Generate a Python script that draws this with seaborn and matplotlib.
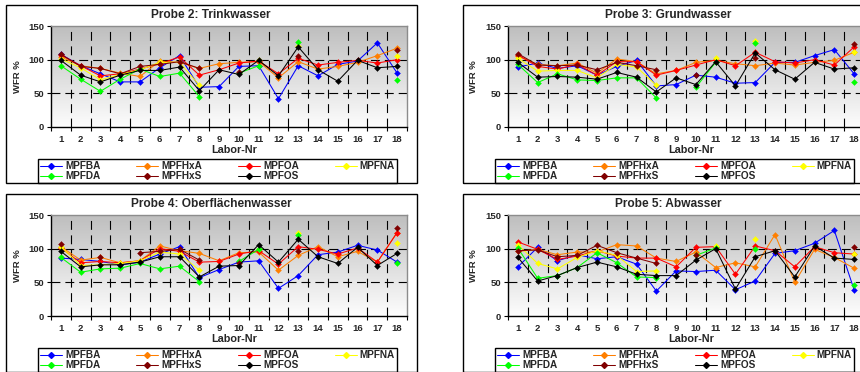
import numpy as np
import pandas as pd
import matplotlib
matplotlib.use("Agg")
import matplotlib.pyplot as plt
from matplotlib.lines import Line2D
from matplotlib.patches import Rectangle
from matplotlib.colors import LinearSegmentedColormap
import seaborn as sns

n = np.nan
labs = list(range(1, 19))
substances = ["MPFBA", "MPFHxA", "MPFOA", "MPFNA", "MPFDA", "MPFHxS", "MPFOS"]
colors = ["#0000ff", "#ff7f00", "#ff0000", "#ffff00", "#00ff00", "#800000", "#000000"]

# Probe 2: Trinkwasser (WFR %)
p2_mpfba = [108, 91, 79, 67, 67, 88, 106, 59, 60, 90, 91, 42, 91, 76, 93, 98, 125, 80]
p2_mpfhxa = [104, 91, 87, 80, 75, 98, 96, 87, 94, 96, 97, 73, 97, 86, 90, 96, 106, 117]
p2_mpfoa = [107, 91, 76, 79, 86, 94, 104, 77, 85, 95, 98, 79, 102, 92, 96, 99, 95, 100]
p2_mpfna = [101, 88, 70, 78, 85, 96, 96, 62, n, n, 100, n, 121, n, n, n, n, 106]
p2_mpfda = [91, 71, 53, 71, 86, 75, 80, 45, n, 80, 91, n, 126, n, n, n, n, 70]
p2_mpfhxs = [108, 90, 87, 79, 90, 93, 97, 87, n, 82, n, n, 105, n, n, n, n, 114]
p2_mpfos = [99, 77, 67, 77, 84, 84, 89, 54, 85, 78, 99, 76, 119, 85, 68, 99, 88, 90]

# Probe 3: Grundwasser
p3_mpfba = [89, 95, 87, 91, 77, 90, 99, 61, 63, 77, 74, 65, 66, 96, 96, 106, 115, 79]
p3_mpfhxa = [105, 93, 91, 95, 80, 101, 97, 79, 84, 96, 99, 94, 91, 95, 92, 96, 99, 111]
p3_mpfoa = [107, 90, 86, 93, 77, 97, 97, 77, 84, 92, 100, 91, 111, 97, 95, 100, 92, 119]
p3_mpfna = [102, 83, 84, 84, 73, 93, 89, 62, n, n, 102, n, 127, n, n, n, n, 111]
p3_mpfda = [93, 66, 79, 70, 69, 73, 73, 43, n, 59, 96, n, 125, n, n, n, n, 67]
p3_mpfhxs = [109, 92, 91, 92, 85, 96, 91, 85, n, 77, n, n, 103, n, n, n, n, 123]
p3_mpfos = [96, 74, 75, 74, 71, 81, 74, 52, 73, 63, 97, 61, 110, 85, 71, 96, 86, 88]

# Probe 4: Oberflächenwasser
p4_mpfba = [86, 84, 81, 76, 80, 92, 103, 57, 69, 80, 82, 41, 60, 91, 95, 105, 98, 80]
p4_mpfhxa = [103, 83, 87, 79, 82, 104, 97, 93, 82, 94, 95, 68, 90, 103, 88, 96, 80, 124]
p4_mpfoa = [101, 79, 81, 79, 82, 100, 96, 80, 81, 92, 97, 77, 103, 99, 92, 101, 80, 124]
p4_mpfna = [103, 75, 76, 78, 82, 95, 92, 68, n, n, 100, n, 124, n, n, n, n, 109]
p4_mpfda = [87, 65, 70, 71, 78, 70, 74, 51, n, 81, 99, n, 121, n, n, n, n, 78]
p4_mpfhxs = [107, n, 87, n, 94, 96, 99, 83, n, 78, n, n, 96, n, n, n, n, 131]
p4_mpfos = [96, 73, 76, 76, 80, 88, 88, 58, 74, 75, 106, 80, 114, 88, 78, 102, 75, 93]

# Probe 5: Abwasser
p5_mpfba = [73, 102, 82, 91, 85, 88, 77, 37, 67, 66, 68, 39, 52, 93, 97, 108, 127, 39]
p5_mpfhxa = [96, 99, 91, 95, 95, 106, 104, 86, 81, 95, 72, 79, 73, 121, 50, 99, 87, 71]
p5_mpfoa = [110, 99, 84, 89, 97, 89, 86, 86, 73, 102, 103, 62, 104, 97, 73, 103, 94, 92]
p5_mpfna = [106, 78, 70, 87, 97, 90, 66, 67, n, n, 104, n, 114, n, n, n, n, 92]
p5_mpfda = [101, 56, 60, 72, 94, 79, 58, 57, n, 90, 101, n, 100, n, n, n, n, 46]
p5_mpfhxs = [97, 98, 88, 90, 105, 94, 86, 78, n, 90, n, n, n, n, n, n, n, 102]
p5_mpfos = [87, 52, 60, 72, 80, 73, 62, 60, 60, 83, 100, 40, 88, 97, 58, 104, 86, 84]

titles = ["Probe 2: Trinkwasser", "Probe 3: Grundwasser",
          "Probe 4: Oberflächenwasser", "Probe 5: Abwasser"]
series = [
    [p2_mpfba, p2_mpfhxa, p2_mpfoa, p2_mpfna, p2_mpfda, p2_mpfhxs, p2_mpfos],
    [p3_mpfba, p3_mpfhxa, p3_mpfoa, p3_mpfna, p3_mpfda, p3_mpfhxs, p3_mpfos],
    [p4_mpfba, p4_mpfhxa, p4_mpfoa, p4_mpfna, p4_mpfda, p4_mpfhxs, p4_mpfos],
    [p5_mpfba, p5_mpfhxa, p5_mpfoa, p5_mpfna, p5_mpfda, p5_mpfhxs, p5_mpfos],
]
y_ticks = [0, 50, 100, 150]

sns.set_theme(style="white")
plt.rcParams["font.family"] = ["Liberation Sans", "DejaVu Sans"]
plt.rcParams["font.weight"] = "bold"

W, H = 860, 372
fig = plt.figure(figsize=(W / 100, H / 100), dpi=100)
fig.patch.set_facecolor("white")


def rect(x0, y0, x1, y1):
    return [x0 / W, 1 - y1 / H, (x1 - x0) / W, (y1 - y0) / H]


def long_table(values_per_substance):
    rows = []
    for sub, vals in zip(substances, values_per_substance):
        seg = 0
        prev_missing = True
        for lab, v in zip(labs, vals):
            if np.isnan(v):
                prev_missing = True
                continue
            if prev_missing:
                seg += 1
                prev_missing = False
            rows.append({"Labor-Nr": lab, "WFR %": v, "Substanz": sub,
                         "Abschnitt": f"{sub}-{seg}"})
    return pd.DataFrame(rows)


grad_cmap = LinearSegmentedColormap.from_list("plotarea", ["#fdfdfd", "#bebebe"])
offsets = [(0, 0), (457, 0), (0, 189), (457, 189)]
msize = 3.0
lwidth = 0.75

for title, vals, (dx, dy) in zip(titles, series, offsets):
    # chart frame
    x0, y0, x1, y1 = 6 + dx, 5 + dy, 417 + dx, 183 + dy
    fig.patches.append(Rectangle((x0 / W, 1 - y1 / H), (x1 - x0) / W, (y1 - y0) / H,
                                 transform=fig.transFigure, fill=False,
                                 edgecolor="black", linewidth=1.0))

    ax = fig.add_axes(rect(51 + dx, 26 + dy, 407 + dx, 127 + dy))
    ax.set_xlim(0.5, 18.5)
    ax.set_ylim(0, 150)
    grad = np.linspace(0, 1, 256).reshape(-1, 1)
    ax.imshow(grad, extent=(0.5, 18.5, 0, 150), origin="lower", aspect="auto",
              cmap=grad_cmap, zorder=0, interpolation="bilinear")

    for yv in (50, 100):
        ax.axhline(yv, color="black", lw=0.8, dashes=(8, 4.5), zorder=1)
    for xv in np.arange(1.5, 18, 1.0):
        ax.axvline(xv, color="black", lw=0.8, dashes=(8, 5), zorder=1)

    df = long_table(vals)
    sns.lineplot(data=df, x="Labor-Nr", y="WFR %", hue="Substanz",
                 hue_order=substances, palette=colors, units="Abschnitt",
                 estimator=None, marker="D", markersize=msize,
                 markeredgewidth=0.3, linewidth=lwidth, legend=False, ax=ax)
    for line in ax.lines:
        if line.get_marker() == "D":
            line.set_zorder(3)
            line.set_markeredgecolor(line.get_color())

    ax.set_xlabel("")
    ax.set_ylabel("")
    ax.set_xticks(labs)
    ax.set_xticklabels([str(v) for v in labs], fontsize=6.8, fontweight="bold")
    ax.set_xticks(np.arange(0.5, 19, 1.0), minor=True)
    ax.set_yticks(y_ticks)
    ax.set_yticklabels([str(v) for v in y_ticks], fontsize=6.8, fontweight="bold")
    ax.tick_params(axis="x", which="major", length=0, pad=6)
    ax.tick_params(axis="x", which="minor", length=3, width=0.8, color="black",
                   direction="out", bottom=True)
    ax.tick_params(axis="y", length=3, width=0.8, color="black", direction="out",
                   left=True, pad=2)
    for side in ("left", "bottom"):
        ax.spines[side].set_color("black")
        ax.spines[side].set_linewidth(1.0)
    for side in ("top", "right"):
        ax.spines[side].set_color("#8c8c8c")
        ax.spines[side].set_linewidth(1.0)

    fig.text((211 + dx) / W, 1 - (15 + dy) / H, title, ha="center", va="center",
             fontsize=8.6, fontweight="bold")
    fig.text((17 + dx) / W, 1 - (77 + dy) / H, "WFR %", ha="center", va="center",
             rotation=90, fontsize=6.8, fontweight="bold")
    fig.text((234 + dx) / W, 1 - (150 + dy) / H, "Labor-Nr", ha="center",
             va="center", fontsize=7.8, fontweight="bold")

    # legend: two rows, four columns
    handles = {s: Line2D([], [], color=c, marker="D", markersize=msize,
                         markeredgecolor=c, linewidth=lwidth)
               for s, c in zip(substances, colors)}
    order = ["MPFBA", "MPFDA", "MPFHxA", "MPFHxS", "MPFOA", "MPFOS", "MPFNA"]
    lx0, ly0, lx1, ly1 = 38 + dx, 159 + dy, 397 + dx, 182 + dy
    leg = ax.legend([handles[s] for s in order], order, ncol=4, loc="upper left",
                    bbox_to_anchor=(lx0 / W, 1 - ly1 / H, (lx1 - lx0) / W,
                                    (ly1 - ly0) / H),
                    bbox_transform=fig.transFigure, mode="expand", frameon=True,
                    fancybox=False, edgecolor="black", framealpha=1,
                    prop={"size": 7.2, "weight": "bold"}, handlelength=2.2,
                    handletextpad=0.3, labelspacing=0.0, borderpad=0.2,
                    borderaxespad=0, columnspacing=1.0)
    leg.get_frame().set_linewidth(1.0)

fig.savefig("out.png", dpi=100)
